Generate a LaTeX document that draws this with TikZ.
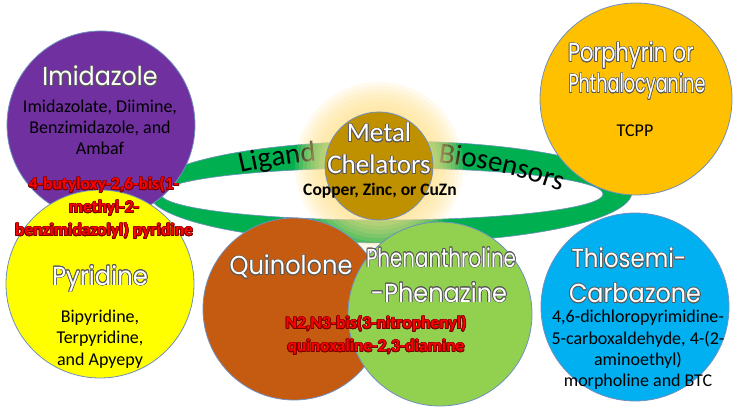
\documentclass[tikz,border=0pt]{standalone}
\usepackage{fontspec}
\setmainfont{Carlito}
\newfontfamily\hdfont{Poppins}
\usepackage{graphicx}
\usepackage[copies]{contour}
\usetikzlibrary{decorations.text}

\definecolor{purp}{HTML}{7030A0}
\definecolor{yel}{HTML}{FFFF00}
\definecolor{orng}{HTML}{C55A11}
\definecolor{lgrn}{HTML}{92D050}
\definecolor{blu}{HTML}{00B0F0}
\definecolor{gold}{HTML}{FFC000}
\definecolor{metalc}{HTML}{BF9000}
\definecolor{ringc}{HTML}{00B050}
\definecolor{glowc}{HTML}{FFE08A}
\definecolor{edgec}{HTML}{6F8FBF}
\definecolor{hdline}{HTML}{585858}
\definecolor{redline}{HTML}{7A0000}

\contourlength{0.75pt}
\newcommand{\hd}[2]{\resizebox{#1}{\height}{\contour{hdline}{\color{white}#2}}}
\newcommand{\rt}[1]{{\contourlength{0.7pt}\contour{redline}{\color{red}#1}}}
\newcommand{\mt}[1]{\contour{hdline}{\color{white}#1}}
\newcommand{\ringfont}{\fontsize{29}{30}\selectfont}

\tikzset{
  bubble/.style={circle, draw=edgec, line width=0.8pt, inner sep=0pt},
  head/.style={inner sep=0pt, anchor=base, font=\hdfont\fontsize{26}{30}\selectfont},
  body/.style={inner sep=0pt, align=center, font=\fontsize{18}{21.3}\selectfont},
  redlabel/.style={inner sep=0pt, align=center, font=\bfseries\fontsize{17.5}{23}\selectfont}
}

\begin{document}
\begin{tikzpicture}[x=1pt, y=1pt]
\useasboundingbox (0,0) rectangle (739,-414);

% ring and its words
\fill[ringc, even odd rule, draw=edgec, line width=0.6pt]
  (390,-192) ellipse[x radius=242, y radius=51]
  (382,-194) ellipse[x radius=221, y radius=26];
\path[decorate, decoration={text along path, text align=left, text={|\ringfont|Ligand}}]
  (370,-733) ++(103:575) arc[start angle=103, end angle=88, radius=575];
\path[decorate, decoration={text along path, text align=left, text={|\ringfont|Biosensors}}]
  (370,-733) ++(83.2:575) arc[start angle=83.2, end angle=62, radius=575];

% glow round the metal
\foreach \r in {56,60,...,84} {
  \fill[glowc, fill opacity=0.16] (379,-166) circle[radius=\r];
}

% circles
\node[bubble, fill=purp, minimum size=188pt] (imid) at (101,-125) {};
\node[bubble, fill=yel, minimum size=188pt] (pyri) at (100,-284) {};
\node[bubble, fill=gold, minimum size=192pt] (porph) at (636,-99) {};
\node[bubble, fill=orng, minimum size=182pt] (quin) at (294,-309) {};
\node[bubble, fill=lgrn, minimum size=184pt] (phen) at (440,-314) {};
\node[bubble, fill=blu, minimum size=188pt] (thio) at (635,-307) {};
\node[bubble, fill=metalc, minimum size=108pt] (metal) at (379,-166) {};

% Imidazole
\node[head] (imidhd) at (100,-86) {\hd{115pt}{Imidazole}};
\node[body] (imidtx) at (100,-127.5) {Imidazolate, Diimine,\\Benzimidazole, and\\Ambaf};

% Pyridine
\node[head] (pyrihd) at (100,-285) {\hd{96pt}{Pyridine}};
\node[body] (pyritx) at (100,-339) {Bipyridine,\\Terpyridine,\\and Apyepy};

% Metal chelators
\node[inner sep=0pt, align=center, font=\fontsize{27}{32}\selectfont] (metalhd) at (379,-149) {\mt{Metal}\\\mt{Chelators}};
\node[inner sep=0pt, anchor=base, font=\bfseries\fontsize{17.5}{21}\selectfont] (metaltx) at (380,-196) {Copper, Zinc, or CuZn};

% Porphyrin
\node[head] (porphd1) at (631,-62) {\hd{126pt}{Porphyrin or}};
\node[head] (porphd2) at (637,-93) {\hd{137pt}{Phthalocyanine}};
\node[inner sep=0pt, anchor=base, font=\fontsize{18}{21}\selectfont] (porptx) at (635,-137) {TCPP};

% Quinolone and Phenanthroline
\node[head] (quinhd) at (291,-275) {\hd{123pt}{Quinolone}};
\node[head] (phenhd1) at (441,-267) {\hd{150pt}{Phenanthroline}};
\node[head] (phenhd2) at (439,-302) {\hd{136pt}{-Phenazine}};

% Thiosemicarbazone
\node[head] (thiohd1) at (629,-268) {\hd{115pt}{Thiosemi-}};
\node[head] (thiohd2) at (635,-302.7) {\hd{132pt}{Carbazone}};
\node[body] (thiotx) at (638,-350) {4,6-dichloropyrimidine-\\5-carboxaldehyde, 4-(2-\\aminoethyl)\\morpholine and BTC};

% red labels
\node[redlabel] (imidred) at (104,-208) {\rt{4-butyloxy-2,6-bis(1-}\\\rt{methyl-2-}\\\rt{benzimidazolyl) pyridine}};
\node[redlabel] (quinred) at (376,-335.5) {\rt{N2,N3-bis(3-nitrophenyl)}\\\rt{quinoxaline-2,3-diamine}};
\end{tikzpicture}
\end{document}
